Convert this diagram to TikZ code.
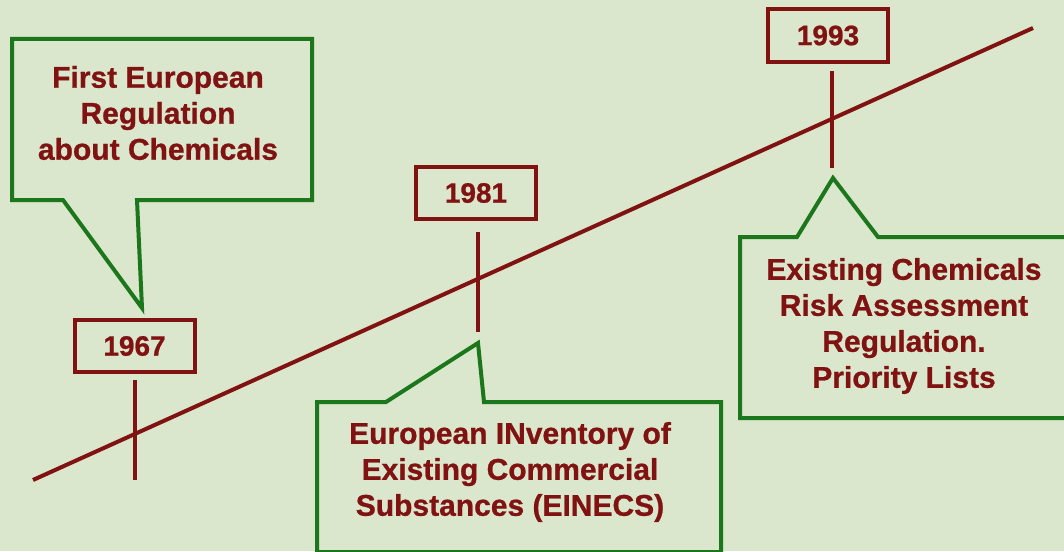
\documentclass[tikz,border=0pt]{standalone}
\usepackage{fontspec}
\setmainfont{Liberation Sans}[BoldFeatures={FakeBold=0.8}]
\definecolor{bgc}{RGB}{218,231,204}
\definecolor{dred}{RGB}{128,18,18}
\definecolor{dgreen}{RGB}{28,118,28}
\tikzset{
  yearbox/.style={draw=dred, line width=4pt, minimum width=120pt, minimum height=52pt, inner sep=0pt,
    font=\fontsize{28}{32}\selectfont\bfseries, text=dred},
  calltext/.style={align=center, inner sep=0pt, text=dred,
    font=\fontsize{30}{36}\selectfont\bfseries},
  callout/.style={draw=dgreen, line width=4pt, line join=miter},
  tline/.style={draw=dred, line width=4pt},
}
\begin{document}
\begin{tikzpicture}[x=1pt,y=-1pt]
\fill[bgc] (0,0) rectangle (1064,551);
\useasboundingbox (0,0) rectangle (1064,551);
% timeline
\coordinate (ts) at (33,480);
\coordinate (te) at (1033,28);
\draw[tline] (ts) -- (te);
% ticks
\coordinate (t1a) at (135,380); \coordinate (t1b) at (135,480);
\coordinate (t2a) at (478,232); \coordinate (t2b) at (478,332);
\coordinate (t3a) at (832,71);  \coordinate (t3b) at (832,168);
\draw[tline] (t1a) -- (t1b);
\draw[tline] (t2a) -- (t2b);
\draw[tline] (t3a) -- (t3b);
% year boxes
\node[yearbox] (y1) at (134.5,346) {1967};
\node[yearbox] (y2) at (476,193) {1981};
\node[yearbox] (y3) at (828,35.5) {1993};
% callout 1
\draw[callout] (12,39) -- (312,39) -- (312,200) -- (137,200) -- (142,308) -- (63,200) -- (12,200) -- cycle;
\node[calltext] (c1) at (158,113) {First European\\Regulation\\about Chemicals};
% callout 2
\draw[callout] (317,402) -- (386,402) -- (478,343) -- (484,402) -- (721,402) -- (721,552) -- (317,552) -- cycle;
\node[calltext] (c2) at (510,472) {European INventory of\\Existing Commercial\\Substances (EINECS)};
% callout 3
\draw[callout] (740,237) -- (797,237) -- (833,178) -- (878,237) -- (1075,237) -- (1075,418) -- (740,418) -- cycle;
\node[calltext] (c3) at (904,326) {Existing Chemicals\\Risk Assessment\\Regulation.\\Priority Lists};
\end{tikzpicture}
\end{document}
